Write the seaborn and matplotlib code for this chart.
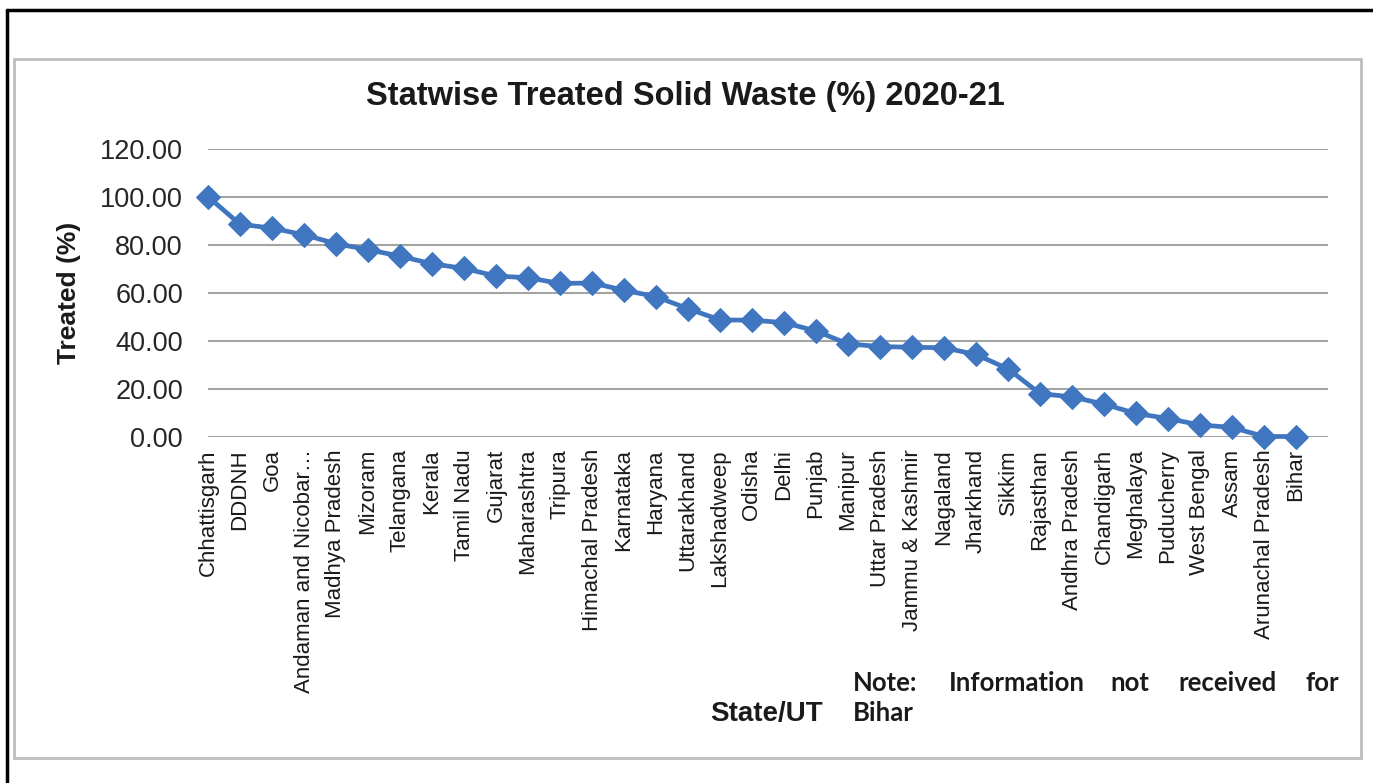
import matplotlib
matplotlib.use("Agg")
import matplotlib.pyplot as plt
import seaborn as sns
import pandas as pd
from matplotlib.patches import Rectangle
from matplotlib.lines import Line2D

states = ["Chhattisgarh", "DDDNH", "Goa", "Andaman and Nicobar\u2026", "Madhya Pradesh",
          "Mizoram", "Telangana", "Kerala", "Tamil Nadu", "Gujarat", "Maharashtra",
          "Tripura", "Himachal Pradesh", "Karnataka", "Haryana", "Uttarakhand",
          "Lakshadweep", "Odisha", "Delhi", "Punjab", "Manipur", "Uttar Pradesh",
          "Jammu & Kashmir", "Nagaland", "Jharkhand", "Sikkim", "Rajasthan",
          "Andhra Pradesh", "Chandigarh", "Meghalaya", "Puducherry", "West Bengal",
          "Assam", "Arunachal Pradesh", "Bihar"]
treated = [100.0, 88.5, 86.9, 84.1, 80.4, 77.9, 75.2, 72.0, 70.1, 66.9, 66.2,
           63.8, 64.0, 61.0, 58.3, 53.3, 48.6, 48.5, 47.5, 44.0, 38.6, 37.5,
           37.2, 37.0, 34.2, 28.2, 17.9, 16.5, 13.5, 9.6, 7.5, 4.8, 3.8, 0.0, 0.0]
yticks = [0, 20, 40, 60, 80, 100, 120]

title = "Statwise Treated Solid Waste (%) 2020-21"
ylabel = "Treated (%)"
xlabel = "State/UT"
note_words = ["Note:", "Information", "not", "received", "for"]
note_line2 = "Bihar"

sns.set_theme(style="white")
plt.rcParams["font.family"] = ["Liberation Sans", "DejaVu Sans"]

W, H = 1373, 783
fig = plt.figure(figsize=(W / 100, H / 100), dpi=100)
fig.patch.set_facecolor("white")

def fx(px):
    return px / W

def fy(py):
    return 1 - py / H

ax = fig.add_axes([fx(208), fy(436.5), fx(1328) - fx(208), fy(148.7) - fy(436.5)])

df = pd.DataFrame({"State": states, "Treated": treated})
sns.lineplot(data=df, x="State", y="Treated", sort=False, estimator=None, ax=ax,
             color="#3F76BF", linewidth=3.4, marker="D", markersize=12,
             markeredgecolor="#3F76BF", zorder=5, clip_on=False)

ax.set_xlim(0, 35)
ax.set_ylim(0, 120)
ax.set_yticks(yticks)
ax.set_yticklabels([f"{v:.2f}" for v in yticks], fontsize=19.5, color="#262626")
ax.set_xticks(range(len(states)))
ax.set_xticklabels(states, rotation=90, fontsize=16, color="#1a1a1a", va="top", ha="center")
ax.tick_params(axis="both", length=0)
ax.tick_params(axis="y", pad=18)
ax.tick_params(axis="x", pad=9)
ax.yaxis.grid(True, color="#A3A3A3", linewidth=1.5)
ax.set_axisbelow(True)
for s in ax.spines.values():
    s.set_visible(False)
ax.set_xlabel("")
ax.set_ylabel("")
ax.patch.set_alpha(0)

fig.text(fx(685.5), fy(97), title, ha="center", va="center", fontsize=23.5,
         fontweight="bold", color="#1a1a1a")
fig.text(fx(69), fy(293), ylabel, ha="center", va="center", rotation=90,
         fontsize=19, fontweight="bold", color="#1a1a1a")
fig.text(fx(823), fy(721), xlabel, ha="right", va="baseline", fontsize=20,
         fontweight="bold", color="#1a1a1a")

# justified note line
note_font = ["Lato", "DejaVu Sans"]
note_places = [(853, "left"), (1016.5, "center"), (1130, "center"), (1228, "center"), (1339, "right")]
for w, (px, ha) in zip(note_words, note_places):
    fig.text(fx(px), fy(691), w, ha=ha, va="baseline", fontsize=18.5,
             fontweight="bold", color="#1a1a1a", family=note_font)
fig.text(fx(853), fy(721), note_line2, ha="left", va="baseline", fontsize=18.5,
         fontweight="bold", color="#1a1a1a", family=note_font)

# chart-area border and outer frame
fig.patches.append(Rectangle((fx(14), fy(758)), fx(1361) - fx(14), fy(59) - fy(758),
                             transform=fig.transFigure, fill=False,
                             edgecolor="#BDBDBD", linewidth=2))
fig.lines.append(Line2D([fx(7), fx(1373)], [fy(10), fy(10)], transform=fig.transFigure,
                        color="black", linewidth=2.5))
fig.lines.append(Line2D([fx(7), fx(7)], [fy(10), fy(783)], transform=fig.transFigure,
                        color="black", linewidth=2.5))

fig.savefig("out.png", dpi=100, facecolor="white")
